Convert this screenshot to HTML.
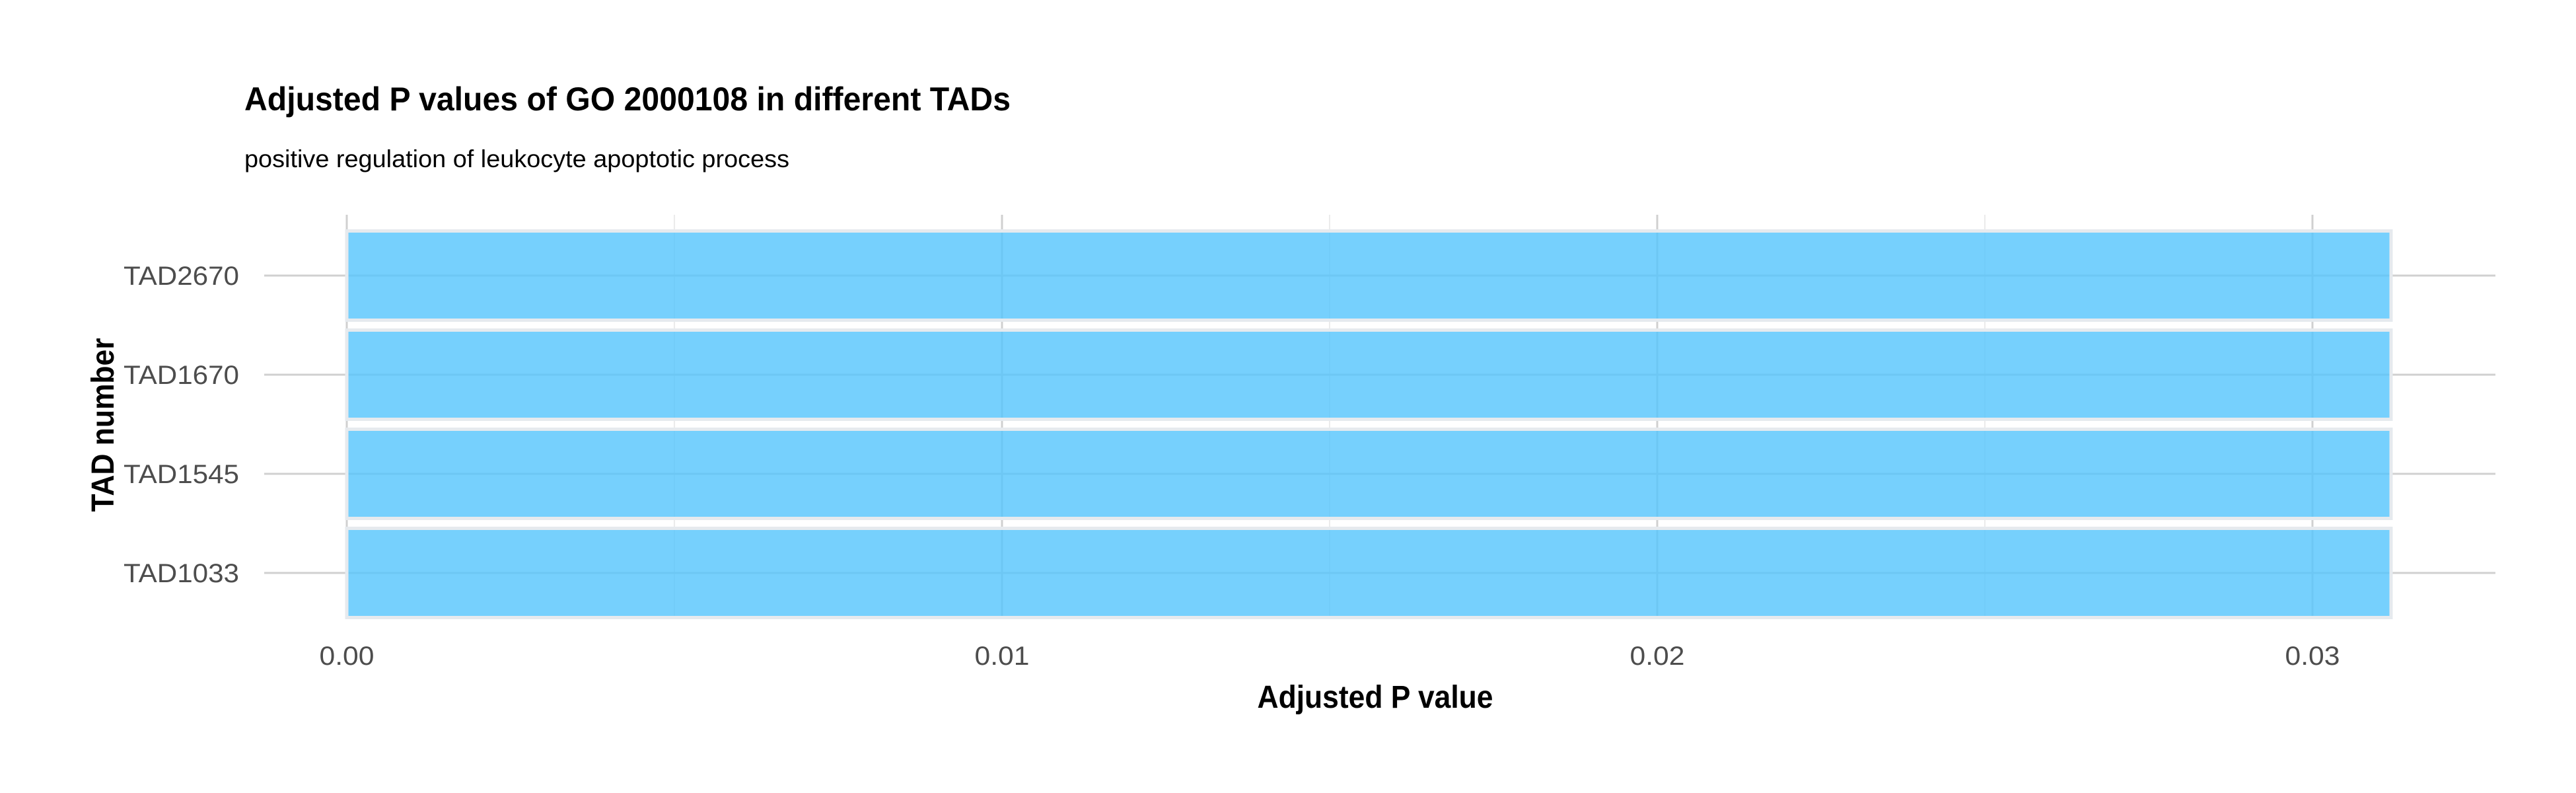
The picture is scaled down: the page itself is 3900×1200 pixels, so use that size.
<!DOCTYPE html>
<html><head><meta charset="utf-8"><style>
html,body{margin:0;padding:0;background:#fff;}
svg{display:block;}
text{font-family:"Liberation Sans Narrow","Liberation Sans",sans-serif;}
</style></head><body>
<svg id="chart" width="3900" height="1200" viewBox="0 0 3900 1200">
<text x="370" y="167" font-size="50" font-weight="bold" fill="#000" textLength="1160" lengthAdjust="spacingAndGlyphs">Adjusted P values of GO 2000108 in different TADs</text>
<text x="370" y="253" font-size="37" fill="#000" textLength="825" lengthAdjust="spacingAndGlyphs">positive regulation of leukocyte apoptotic process</text>
<g id="grid"></g>
<g id="bars"></g>
<g id="ylabels"></g>
<g id="xlabels"></g>
<text x="2082" y="1071" font-size="48" font-weight="bold" fill="#000" text-anchor="middle" textLength="357" lengthAdjust="spacingAndGlyphs">Adjusted P value</text>
<text transform="translate(172,643) rotate(-90)" font-size="48" font-weight="bold" fill="#000" text-anchor="middle" textLength="263" lengthAdjust="spacingAndGlyphs">TAD number</text>
</svg>
<script>
const categories = ["TAD2670", "TAD1670", "TAD1545", "TAD1033"];
const values = [0.0312, 0.0312, 0.0312, 0.0312];
const xTicks = [0, 0.01, 0.02, 0.03];
const xTickLabels = ["0.00", "0.01", "0.02", "0.03"];
const xMinor = [0.005, 0.015, 0.025];

const NS = "http://www.w3.org/2000/svg";
const X0 = 525, XPER = 99200;
const panelTop = 325, panelBottom = 937, panelLeft = 400, panelRight = 3778;
const rowTop = 342, band = 150;
function xs(v){ return X0 + v * XPER; }
function ys(i){ return rowTop + band * i + band / 2; }
function mk(tag, attrs, parent){ const e = document.createElementNS(NS, tag); for (const k in attrs) e.setAttribute(k, attrs[k]); parent.appendChild(e); return e; }

const grid = document.getElementById('grid');
xMinor.forEach(v => {
  const l = mk('line', {x1: xs(v), x2: xs(v), y1: panelTop, y2: panelBottom, stroke: '#ebebeb', 'stroke-width': 2}, grid);
  
  
});
xTicks.forEach(v => {
  const l = mk('line', {x1: xs(v), x2: xs(v), y1: panelTop, y2: panelBottom, stroke: '#d0d0d0', 'stroke-width': 3}, grid);
  
  
});
categories.forEach((c, i) => {
  const l = mk('line', {x1: panelLeft, x2: panelRight, y1: ys(i), y2: ys(i), stroke: '#d0d0d0', 'stroke-width': 3}, grid);
  
  
});

const bars = document.getElementById('bars');
categories.forEach((c, i) => {
  const h = band * 0.9;
  const r = mk('rect', {x: xs(0), y: ys(i) - h / 2, width: xs(values[i]) - xs(0), height: h, fill: 'rgba(84,196,252,0.8)', stroke: '#e6eaee', 'stroke-width': 5}, bars);
  
  
});

const yl = document.getElementById('ylabels');
categories.forEach((c, i) => {
  const t = mk('text', {x: 362, y: ys(i) + 14, 'font-size': 40, fill: '#4d4d4d', 'text-anchor': 'end', textLength: 175, lengthAdjust: 'spacingAndGlyphs'}, yl);
  t.textContent = c;
  
  
});
const xl = document.getElementById('xlabels');
xTicks.forEach((v, i) => {
  const t = mk('text', {x: xs(v), y: 1006, 'font-size': 40, fill: '#4d4d4d', 'text-anchor': 'middle', textLength: 83, lengthAdjust: 'spacingAndGlyphs'}, xl);
  t.textContent = xTickLabels[i];
  
  
});
</script>
</body></html>
